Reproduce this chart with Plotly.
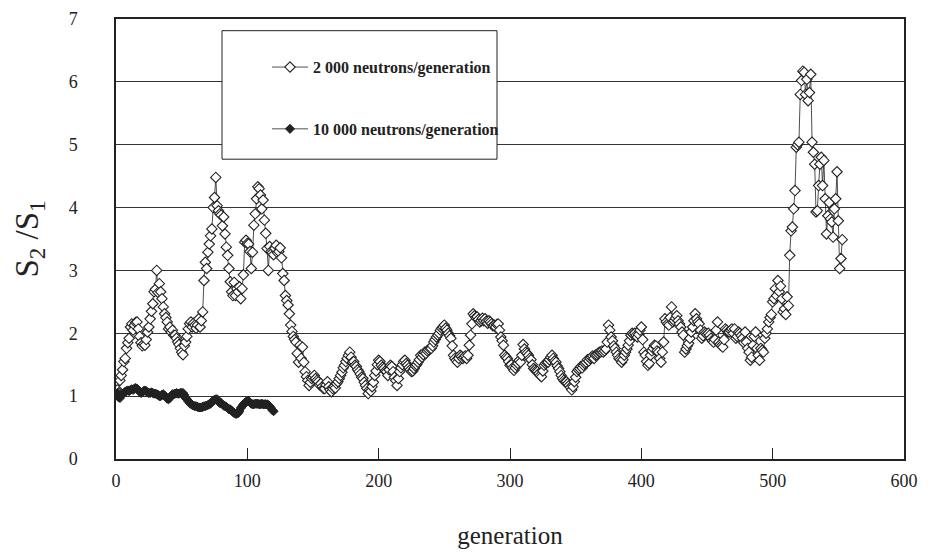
import plotly.graph_objects as go

# ---- data ----
s2000_values = [
    1.10, 1.05, 1.25, 1.33, 1.42, 1.55, 1.60, 1.76, 1.85, 1.92,
    2.10, 2.15, 2.05, 2.13, 2.17, 2.18, 2.07, 1.95, 1.85, 1.80,
    1.83, 1.81, 1.90, 2.02, 2.10, 2.23, 2.35, 2.47, 2.66, 2.70,
    3.00, 2.65, 2.79, 2.66, 2.55, 2.42, 2.31, 2.25, 2.18, 2.07,
    2.10, 2.02, 2.05, 1.97, 1.97, 1.92, 1.86, 1.82, 1.76, 1.70,
    1.66, 1.80, 1.86, 1.95, 2.07, 2.15, 2.18, 2.10, 2.16, 2.13,
    2.08, 2.13, 2.23, 2.10, 2.20, 2.34, 2.84, 3.13, 3.03, 3.29,
    3.42, 3.55, 3.66, 4.00, 4.16, 4.48, 4.03, 3.95, 3.90, 3.88,
    3.71, 3.85, 3.58, 3.37, 3.24, 3.03, 2.82, 2.66, 2.60, 2.81,
    2.60, 2.71, 2.66, 2.74, 2.55, 2.71, 2.93, 3.45, 3.48, 3.43,
    3.42, 3.30, 3.03, 3.29, 3.72, 3.90, 4.14, 4.33, 4.30, 4.20,
    3.98, 4.12, 3.80, 3.59, 3.35, 3.00, 3.38, 3.30, 3.28, 3.25,
    3.35, 3.40, 3.28, 3.30, 3.36, 3.20, 2.95, 2.84, 2.60, 2.52,
    2.45, 2.31, 2.13, 2.03, 1.95, 1.90, 1.86, 1.68, 1.54, 1.81,
    1.60, 1.78, 1.54, 1.39, 1.31, 1.25, 1.17, 1.22, 1.28, 1.30,
    1.33, 1.28, 1.25, 1.23, 1.18, 1.20, 1.15, 1.12, 1.12, 1.18,
    1.23, 1.15, 1.10, 1.07, 1.12, 1.15, 1.13, 1.20, 1.23, 1.28,
    1.33, 1.38, 1.45, 1.49, 1.55, 1.60, 1.65, 1.70, 1.62, 1.54,
    1.55, 1.49, 1.47, 1.42, 1.39, 1.35, 1.30, 1.28, 1.22, 1.17,
    1.12, 1.04, 1.10, 1.08, 1.15, 1.22, 1.33, 1.40, 1.50, 1.57,
    1.55, 1.49, 1.46, 1.44, 1.40, 1.39, 1.33, 1.42, 1.49, 1.47,
    1.39, 1.30, 1.25, 1.17, 1.28, 1.39, 1.45, 1.50, 1.55, 1.57,
    1.52, 1.49, 1.45, 1.42, 1.39, 1.40, 1.44, 1.48, 1.50, 1.54,
    1.58, 1.65, 1.62, 1.66, 1.70, 1.68, 1.72, 1.74, 1.76, 1.76,
    1.80, 1.86, 1.90, 1.94, 1.97, 2.00, 2.05, 2.08, 2.10, 2.13,
    2.08, 2.05, 2.00, 1.96, 1.92, 1.80, 1.65, 1.60, 1.57, 1.54,
    1.60, 1.65, 1.63, 1.60, 1.62, 1.64, 1.60, 1.65, 1.81, 1.97,
    2.15, 2.31, 2.28, 2.25, 2.26, 2.22, 2.18, 2.20, 2.24, 2.20,
    2.23, 2.19, 2.16, 2.20, 2.18, 2.15, 2.12, 2.13, 2.10, 2.14,
    2.15, 2.05, 1.94, 1.88, 1.81, 1.65, 1.62, 1.60, 1.55, 1.49,
    1.50, 1.45, 1.41, 1.45, 1.49, 1.52, 1.57, 1.54, 1.65, 1.82,
    1.75, 1.70, 1.68, 1.65, 1.60, 1.58, 1.50, 1.44, 1.42, 1.40,
    1.39, 1.36, 1.33, 1.31, 1.40, 1.49, 1.52, 1.54, 1.54, 1.58,
    1.62, 1.65, 1.60, 1.56, 1.54, 1.48, 1.44, 1.39, 1.33, 1.28,
    1.25, 1.23, 1.23, 1.20, 1.17, 1.14, 1.10, 1.15, 1.23, 1.30,
    1.39, 1.42, 1.44, 1.47, 1.45, 1.49, 1.52, 1.54, 1.58, 1.56,
    1.60, 1.62, 1.64, 1.60, 1.65, 1.66, 1.68, 1.70, 1.70, 1.72,
    1.70, 1.72, 1.75, 1.86, 2.13, 2.05,
    1.94, 1.88, 1.80, 1.76, 1.70, 1.65, 1.60, 1.58, 1.54, 1.58,
    1.65, 1.70, 1.75, 1.81, 1.88, 1.97, 2.00, 1.98, 2.00, 1.97,
    1.94, 1.98, 2.05, 2.10, 1.90, 1.70, 1.65, 1.55, 1.49, 1.52,
    1.65, 1.72, 1.76, 1.81, 1.80, 1.72, 1.70, 1.60, 1.54, 1.70,
    1.86, 2.23, 2.18, 2.15, 2.13, 2.25, 2.42, 2.18, 2.20, 2.24,
    2.28, 2.20, 2.15, 2.10, 2.02, 1.97, 1.70, 1.75, 1.80, 1.84,
    1.92, 2.02, 2.10, 2.20, 2.31, 2.23, 2.18, 2.15, 2.05, 1.92,
    1.96, 2.02, 2.00, 1.98, 2.00, 1.97, 1.92, 1.88, 1.86, 1.90,
    2.05, 2.18, 1.86, 1.82, 1.80, 1.78, 1.90, 2.07, 2.05, 2.02,
    2.02, 2.05, 2.07, 2.00, 2.07, 1.92, 1.95, 2.02, 2.00, 1.96,
    1.92, 1.85, 2.02, 1.86, 1.76, 1.70, 1.57, 1.62, 1.81, 1.95,
    2.02, 1.76, 1.65, 1.57,
    1.76, 1.73, 1.70, 1.92, 2.00, 2.07, 2.18, 2.25, 2.30, 2.50,
    2.55, 2.71, 2.60, 2.84, 2.66, 2.75, 2.55, 2.34, 2.39, 2.30,
    2.58, 2.44, 3.24, 3.63, 3.69, 3.98, 4.27, 4.96, 5.00, 5.04,
    5.80, 6.02, 6.17, 6.15, 5.80, 6.04, 5.70, 5.83, 6.12, 5.04,
    4.88, 4.69, 3.93, 3.95, 4.35, 4.69, 4.80, 4.35, 4.75, 4.14,
    3.58, 3.87, 4.08, 3.82, 3.77, 3.53, 3.98, 4.14, 4.57, 3.79,
    3.03, 3.19, 3.49,
]
s2000_generations = list(range(1, len(s2000_values) + 1))

s10000_values = [
    1.05, 0.98, 0.97, 1.02, 1.04, 1.05, 1.07, 1.08, 1.09, 1.08,
    1.10, 1.11, 1.10, 1.12, 1.13, 1.12, 1.10, 1.07, 1.05, 1.06,
    1.08, 1.09, 1.08, 1.06, 1.05, 1.05, 1.06, 1.05, 1.04, 1.04,
    1.03, 1.02, 1.00, 1.00, 1.02, 1.03, 1.01, 0.98, 0.96, 0.95,
    0.97, 1.00, 1.03, 1.03, 1.04, 1.05, 1.04, 1.04, 1.05, 1.05,
    1.05, 1.02, 0.97, 0.95, 0.92, 0.89, 0.88, 0.86, 0.85, 0.84,
    0.84, 0.83, 0.82, 0.82, 0.82, 0.83, 0.84, 0.84, 0.85, 0.86,
    0.87, 0.88, 0.91, 0.93, 0.94, 0.95, 0.95, 0.92, 0.89, 0.89,
    0.87, 0.85, 0.84, 0.83, 0.81, 0.79, 0.79, 0.77, 0.75, 0.73,
    0.72, 0.72, 0.73, 0.76, 0.81, 0.84, 0.87, 0.89, 0.91, 0.92,
    0.92, 0.90, 0.88, 0.87, 0.87, 0.88, 0.88, 0.88, 0.87, 0.87,
    0.88, 0.87, 0.87, 0.87, 0.87, 0.86, 0.84, 0.81, 0.78, 0.76,
]
s10000_generations = list(range(1, len(s10000_values) + 1))

series_names = ["2 000 neutrons/generation", "10 000 neutrons/generation"]
x_ticks = [0, 100, 200, 300, 400, 500, 600]
y_ticks = [0, 1, 2, 3, 4, 5, 6, 7]

FONT = "Liberation Serif, Times New Roman, serif"
INK = "#222222"

W, H = 937, 554
ML, MR, MT, MB = 116, 33, 9, 93
PW, PH = W - ML - MR, H - MT - MB


def px_x(px):
    return (px - ML) / PW


def px_y(py):
    return 1 - (py - MT) / PH


fig = go.Figure()
fig.add_trace(go.Scatter(
    x=s2000_generations, y=s2000_values, mode="lines+markers",
    name=series_names[0], legendgroup="a",
    line=dict(color=INK, width=0.8),
    marker=dict(symbol="diamond", size=8, color="white",
                line=dict(color=INK, width=1.1)),
))
fig.add_trace(go.Scatter(
    x=s10000_generations, y=s10000_values, mode="lines+markers",
    name=series_names[1], legendgroup="b",
    line=dict(color=INK, width=0.8),
    marker=dict(symbol="diamond", size=7, color=INK,
                line=dict(color=INK, width=1)),
))

# legend frame
fig.add_shape(type="rect", xref="paper", yref="paper",
              x0=px_x(222), x1=px_x(497), y0=px_y(153), y1=px_y(21),
              line=dict(color=INK, width=1), fillcolor="white", layer="above")

fig.update_layout(
    width=W, height=H,
    margin=dict(l=ML, r=MR, t=MT, b=MB),
    paper_bgcolor="white", plot_bgcolor="white",
    font=dict(family=FONT, color=INK, size=18),
    showlegend=True,
    legend=dict(
        x=px_x(267), y=px_y(41), xanchor="left", yanchor="top",
        bgcolor="rgba(0,0,0,0)", borderwidth=0,
        font=dict(family=FONT, size=16, color=INK, weight="bold"),
        tracegroupgap=38,
        itemwidth=36,
    ),
    xaxis=dict(
        range=[0, 600], tickvals=x_ticks, ticktext=[str(v) for v in x_ticks],
        showgrid=False, zeroline=False,
        showline=True, linecolor=INK, linewidth=1.5, mirror=True,
        ticks="inside", ticklen=11, tickcolor=INK, tickwidth=1,
        ticklabelstandoff=5,
        tickfont=dict(size=18),
        title=dict(text="generation", font=dict(family=FONT, size=25), standoff=36),
    ),
    yaxis=dict(
        range=[0, 7], tickvals=y_ticks, ticktext=[str(v) for v in y_ticks],
        showgrid=True, gridcolor="#333333", gridwidth=1, zeroline=False,
        showline=True, linecolor=INK, linewidth=1.5, mirror=True,
        ticks="outside", ticklen=33, tickcolor="rgba(0,0,0,0)", tickwidth=1,
        tickfont=dict(size=18),
        title=dict(text="S<sub>2</sub> /S<sub>1</sub>\u00a0\u00a0\u00a0\u00a0", font=dict(family=FONT, size=33), standoff=20),
    ),
)

fig.write_html("out.html")
